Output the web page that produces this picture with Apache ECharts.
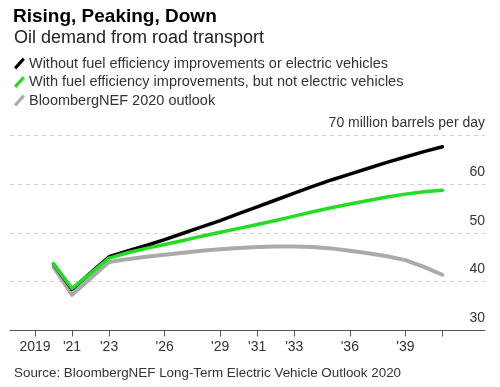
<!DOCTYPE html>
<html><head><meta charset="utf-8">
<script src="https://cdn.jsdelivr.net/npm/echarts@6/dist/echarts.min.js"></script>
<style>html,body{margin:0;padding:0;background:#fff}#c{width:500px;height:387px}</style>
</head><body><div id="c"></div>
<script>
const years = [2020,2021,2022,2023,2024,2025,2026,2027,2028,2029,2030,2031,2032,2033,2034,2035,2036,2037,2038,2039,2040,2041];
const withoutEff = [43.6,38.4,41.8,45.1,46.3,47.4,48.6,49.9,51.2,52.5,53.9,55.3,56.7,58.1,59.5,60.8,62.0,63.2,64.4,65.5,66.6,67.6];
const withEff    = [43.6,38.6,41.7,44.8,45.9,46.8,47.6,48.4,49.3,50.1,50.9,51.7,52.5,53.4,54.3,55.1,55.9,56.6,57.3,57.9,58.4,58.7];
const bnef2020   = [43.0,37.3,40.7,44.0,44.6,45.1,45.5,45.9,46.3,46.6,46.9,47.1,47.2,47.2,47.1,46.8,46.3,45.8,45.2,44.4,43.0,41.4];
const seriesNames = ['Without fuel efficiency improvements or electric vehicles','With fuel efficiency improvements, but not electric vehicles','BloombergNEF 2020 outlook'];
const tickYears = [2019,2021,2023,2026,2029,2031,2033,2036,2039,2041];
const labelYears = [2019,2021,2023,2026,2029,2031,2033,2036,2039];
const yTicks = [30,40,50,60,70];
const unitLabel = 'million barrels per day';

const pair = arr => years.map((y,i)=>[y,arr[i]]);
const font = '"Liberation Sans", Arial, sans-serif';
const icon = 'path://M0,9 L8,0 L10,2 L2,11 Z';

const chart = echarts.init(document.getElementById('c'));
chart.setOption({
  animation:false,
  textStyle:{fontFamily:font},
  title:[
    {text:'Rising, Peaking, Down', left:8, top:2, textStyle:{fontSize:19, fontWeight:'bold', color:'#000', fontFamily:font, letterSpacing:-0.3}},
    {text:'Oil demand from road transport', left:9, top:24, textStyle:{fontSize:18, fontWeight:'normal', color:'#222', fontFamily:font}},
    {text:'Source: BloombergNEF Long-Term Electric Vehicle Outlook 2020', left:9, top:362, textStyle:{fontSize:13.4, fontWeight:'normal', color:'#333', fontFamily:font}}
  ],
  legend:{
    orient:'vertical', left:9, top:51, itemGap:3.5, itemWidth:11, itemHeight:12,
    data:[
      {name:seriesNames[0], icon:icon, itemStyle:{color:'#000'}},
      {name:seriesNames[1], icon:icon, itemStyle:{color:'#22dd22'}},
      {name:seriesNames[2], icon:icon, itemStyle:{color:'#aaaaaa'}}
    ],
    textStyle:{fontSize:14.5, color:'#333', fontFamily:font, padding:[0,0,0,-1]},
    selectedMode:false
  },
  grid:{left:10, right:15, top:135, bottom:56.5},
  xAxis:{
    type:'value', min:2017.65, max:2043.3,
    splitLine:{show:false},
    axisLine:{lineStyle:{color:'#555', width:1}},
    axisTick:{show:true, customValues:tickYears, length:6, lineStyle:{color:'#555'}},
    axisLabel:{customValues:labelYears, margin:10, fontSize:14, color:'#333',
      formatter:v=> v===2019 ? '2019' : "'" + String(v).slice(2)}
  },
  yAxis:{
    type:'value', position:'right', min:30, max:70, interval:10,
    axisLine:{show:false}, axisTick:{show:false},
    splitLine:{lineStyle:{color:'#d0d0d0', type:[4,4], width:1}},
    axisLabel:{inside:true, margin:0, verticalAlign:'bottom', fontSize:14, color:'#333',
      padding:[0,0,5,0],
      formatter:v=> v===70 ? v + ' ' + unitLabel : String(v)}
  },
  series:[
    {name:seriesNames[2], type:'line', data:pair(bnef2020), showSymbol:false, z:2,
      itemStyle:{color:'#aaaaaa'}, lineStyle:{color:'#aaaaaa', width:4, cap:'round', join:'round'}},
    {name:seriesNames[0], type:'line', data:pair(withoutEff), showSymbol:false, z:3,
      itemStyle:{color:'#000'}, lineStyle:{color:'#000', width:3.5, cap:'round', join:'round'}},
    {name:seriesNames[1], type:'line', data:pair(withEff), showSymbol:false, z:4,
      itemStyle:{color:'#22dd22'}, lineStyle:{color:'#22dd22', width:3.5, cap:'round', join:'round'}}
  ]
});
</script></body></html>
